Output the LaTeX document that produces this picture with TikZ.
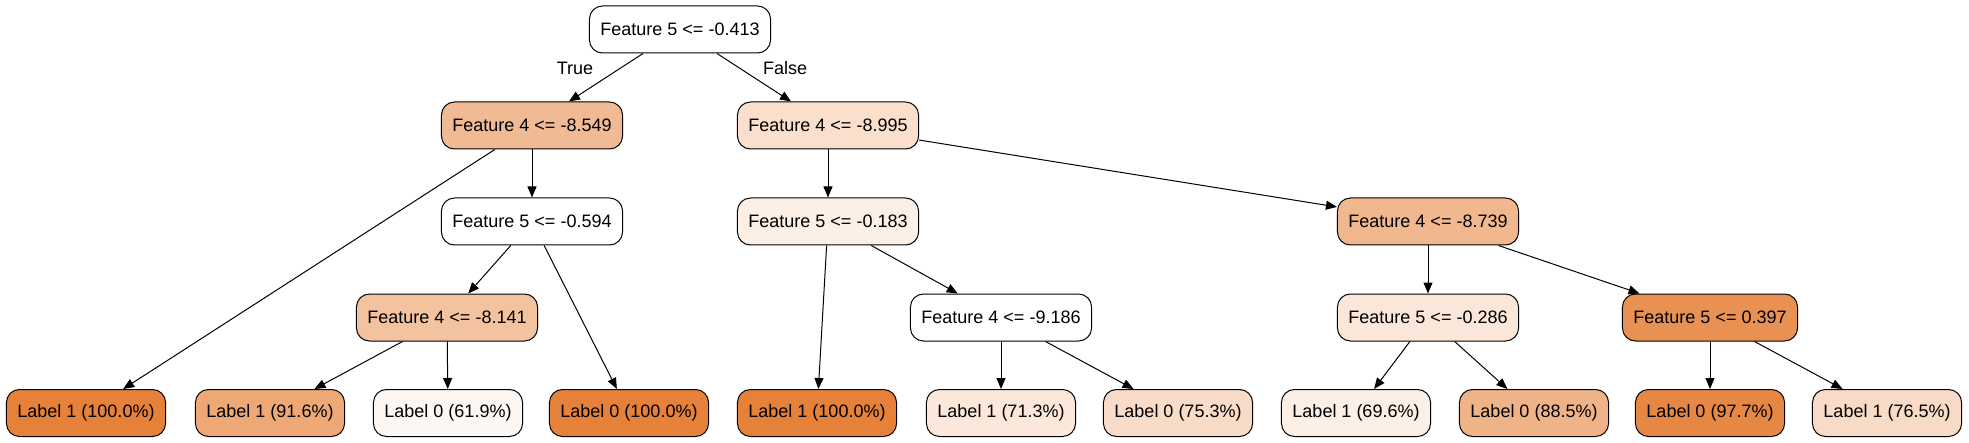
\documentclass[tikz,border=0pt]{standalone}
\usepackage{fontspec}
\setmainfont{Liberation Sans}
\usepackage{tikz}
\usetikzlibrary{arrows.meta, positioning}

\definecolor{c100}{HTML}{E58139}
\definecolor{c977}{HTML}{E68844}
\definecolor{c916}{HTML}{EDA876}
\definecolor{c885}{HTML}{EFB388}
\definecolor{c765}{HTML}{F8DBC7}
\definecolor{c753}{HTML}{F8DCC8}
\definecolor{c713}{HTML}{FBE8DB}
\definecolor{c696}{HTML}{FCEFE5}
\definecolor{c619}{HTML}{FDF7F3}
\definecolor{fA}{HTML}{F0BB94}
\definecolor{fB}{HTML}{F9DFCC}
\definecolor{fC}{HTML}{FCEFE6}
\definecolor{fD}{HTML}{F1B890}
\definecolor{fE}{HTML}{F3C29F}
\definecolor{fF}{HTML}{FBE7D9}
\definecolor{fG}{HTML}{E89153}

\begin{document}
\begin{tikzpicture}[x=0.5pt, y=-0.5pt,
  every node/.style={font=\fontsize{9}{11}\selectfont},
  treenode/.style={draw, line width=0.5pt, rectangle, rounded corners=6.5pt,
    minimum height=23.5pt, inner xsep=5.5pt},
  edge/.style={-{Triangle[length=5.5pt, width=4.5pt]}, line width=0.5pt}]
\useasboundingbox (0,0) rectangle (1969,443);

% Decision nodes
\node[treenode, fill=white] (root) at (680,29.5) {Feature 5 <= -0.413};
\node[treenode, fill=fA] (n1) at (532,125.5) {Feature 4 <= -8.549};
\node[treenode, fill=fB] (n2) at (828,125.5) {Feature 4 <= -8.995};
\node[treenode, fill=white] (n3) at (532,221.5) {Feature 5 <= -0.594};
\node[treenode, fill=fC] (n4) at (828,221.5) {Feature 5 <= -0.183};
\node[treenode, fill=fD] (n5) at (1428,221.5) {Feature 4 <= -8.739};
\node[treenode, fill=fE] (n6) at (447,317.5) {Feature 4 <= -8.141};
\node[treenode, fill=white] (n7) at (1001,317.5) {Feature 4 <= -9.186};
\node[treenode, fill=fF] (n8) at (1428,317.5) {Feature 5 <= -0.286};
\node[treenode, fill=fG] (n9) at (1710,317.5) {Feature 5 <= 0.397};

% Leaves
\node[treenode, fill=c100] (l1) at (86,413) {Label 1 (100.0\%)};
\node[treenode, fill=c916] (l2) at (270,413) {Label 1 (91.6\%)};
\node[treenode, fill=c619] (l3) at (448,413) {Label 0 (61.9\%)};
\node[treenode, fill=c100] (l4) at (629,413) {Label 0 (100.0\%)};
\node[treenode, fill=c100] (l5) at (817,413) {Label 1 (100.0\%)};
\node[treenode, fill=c713] (l6) at (1001,413) {Label 1 (71.3\%)};
\node[treenode, fill=c753] (l7) at (1178,413) {Label 0 (75.3\%)};
\node[treenode, fill=c696] (l8) at (1356,413) {Label 1 (69.6\%)};
\node[treenode, fill=c885] (l9) at (1534,413) {Label 0 (88.5\%)};
\node[treenode, fill=c977] (l10) at (1710,413) {Label 0 (97.7\%)};
\node[treenode, fill=c765] (l11) at (1887,413) {Label 1 (76.5\%)};

% Edges
\draw[edge] (root) -- (n1);
\draw[edge] (root) -- (n2);
\draw[edge] (n1) -- (l1);
\draw[edge] (n1) -- (n3);
\draw[edge] (n3) -- (n6);
\draw[edge] (n3) -- (l4);
\draw[edge] (n6) -- (l2);
\draw[edge] (n6) -- (l3);
\draw[edge] (n2) -- (n4);
\draw[edge] (n2) -- (n5);
\draw[edge] (n4) -- (l5);
\draw[edge] (n4) -- (n7);
\draw[edge] (n7) -- (l6);
\draw[edge] (n7) -- (l7);
\draw[edge] (n5) -- (n8);
\draw[edge] (n5) -- (n9);
\draw[edge] (n8) -- (l8);
\draw[edge] (n8) -- (l9);
\draw[edge] (n9) -- (l10);
\draw[edge] (n9) -- (l11);

% Branch labels
\node (true) at (575,68) {True};
\node (false) at (785,68) {False};
\end{tikzpicture}
\end{document}
